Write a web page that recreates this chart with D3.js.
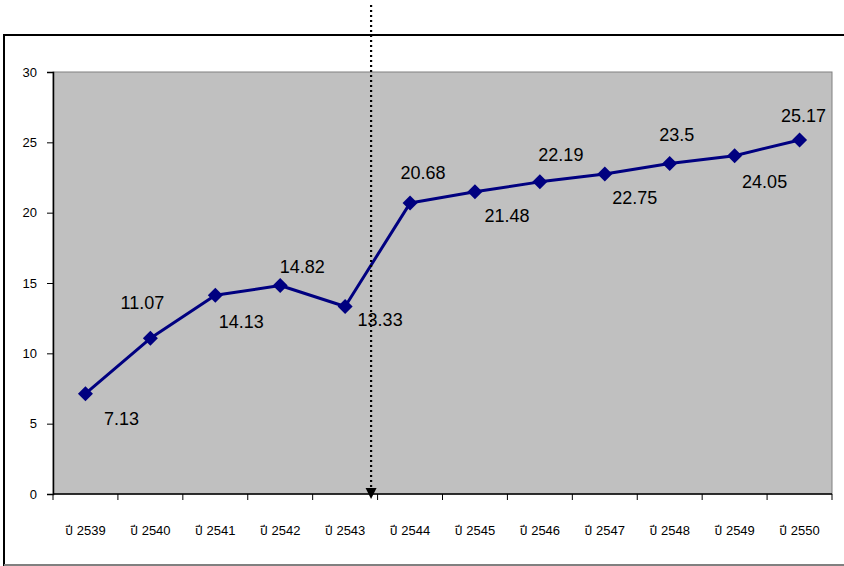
<!DOCTYPE html>
<html><head><meta charset="utf-8">
<script src="https://cdn.jsdelivr.net/npm/d3@7"></script>
<style>html,body{margin:0;padding:0;background:#fff;}svg{display:block;}</style>
</head><body>
<script>
const categories = ["ปี 2539","ปี 2540","ปี 2541","ปี 2542","ปี 2543","ปี 2544","ปี 2545","ปี 2546","ปี 2547","ปี 2548","ปี 2549","ปี 2550"];
const values = [7.13, 11.07, 14.13, 14.82, 13.33, 20.68, 21.48, 22.19, 22.75, 23.5, 24.05, 25.17];
const yTicks = [0, 5, 10, 15, 20, 25, 30];
const valueLabels = ["7.13","11.07","14.13","14.82","13.33","20.68","21.48","22.19","22.75","23.5","24.05","25.17"];
// label placement offsets (px) relative to each point
const labelDx = [36, -8, 26, 22, 35, 13, 32, 21, 30, 7, 30, 4];
const labelDy = [25, -35, 27, -19, 14, -30, 24, -27, 24, -28, 26, -24];
const arrowCategory = "ปี 2543";

const W = 844, H = 566;
const svg = d3.select("body").append("svg").attr("width", W).attr("height", H);

// outer chart border
svg.append("line").attr("x1",4).attr("x2",W).attr("y1",35).attr("y2",35).attr("stroke","#000").attr("stroke-width",2);
svg.append("line").attr("x1",4).attr("x2",4).attr("y1",34).attr("y2",566).attr("stroke","#000").attr("stroke-width",2);
svg.append("line").attr("x1",4).attr("x2",W).attr("y1",565).attr("y2",565).attr("stroke","#808080").attr("stroke-width",2);

const L = 53, R = 832, T = 72, B = 494;
const x = d3.scaleBand().domain(categories).range([L, R]).padding(0);
const y = d3.scaleLinear().domain([0, 30]).range([B, T]);

// plot area
svg.append("rect").attr("x",L).attr("y",T).attr("width",R-L).attr("height",B-T)
  .attr("fill","#c0c0c0").attr("stroke","#808080").attr("stroke-width",1);

const font = "'Liberation Sans', Arial, 'Noto Sans Thai', 'DejaVu Sans', sans-serif";

// y axis
const yAxis = d3.axisLeft(y).tickValues(yTicks).tickSize(6).tickPadding(10);
const gy = svg.append("g").attr("transform",`translate(${L},0)`).call(yAxis);
gy.select(".domain").attr("stroke","#000").attr("stroke-width",1.5);
gy.selectAll(".tick line").attr("stroke","#000");
gy.selectAll("text").attr("font-family",font).attr("font-size",13).attr("fill","#000");

// x axis with ticks at band boundaries
const gx = svg.append("g").attr("transform",`translate(0,${B})`);
gx.append("line").attr("x1",L).attr("x2",R).attr("y1",0).attr("y2",0).attr("stroke","#000").attr("stroke-width",1.5);
const bounds = categories.map(c => x(c)).concat([x(categories[categories.length-1]) + x.bandwidth()]);
gx.selectAll("line.tk").data(bounds).enter().append("line").attr("class","tk")
  .attr("x1",d=>d).attr("x2",d=>d).attr("y1",0).attr("y2",6).attr("stroke","#000");
gx.selectAll("text").data(categories).enter().append("text")
  .attr("x",d=>x(d)+x.bandwidth()/2).attr("y",36)
  .attr("text-anchor","middle").attr("dominant-baseline","central")
  .attr("font-family",font).attr("font-size",13).attr("fill","#000")
  .style("font-variant-emoji","text").text(d=>d);

const cx = (d,i) => x(categories[i]) + x.bandwidth()/2;

// line
const line = d3.line().x((d,i)=>cx(d,i)).y(d=>y(d));
svg.append("path").datum(values).attr("d",line).attr("fill","none")
  .attr("stroke","#000080").attr("stroke-width",3).attr("stroke-linejoin","round");

// diamond markers
const r = 7.5;
svg.selectAll("path.mk").data(values).enter().append("path").attr("class","mk")
  .attr("d",(d,i)=>{const px=cx(d,i), py=y(d); return `M${px},${py-r}L${px+r},${py}L${px},${py+r}L${px-r},${py}Z`;})
  .attr("fill","#000080");

// value labels
svg.selectAll("text.vl").data(values).enter().append("text").attr("class","vl")
  .attr("x",(d,i)=>cx(d,i)+labelDx[i]).attr("y",(d,i)=>y(d)+labelDy[i])
  .attr("text-anchor","middle").attr("dominant-baseline","central")
  .attr("font-family",font).attr("font-size",18).attr("fill","#000")
  .text((d,i)=>valueLabels[i]);

// dotted arrow
const ax = x(arrowCategory) + x.bandwidth()*0.9;
svg.append("line").attr("x1",ax).attr("x2",ax).attr("y1",5).attr("y2",489)
  .attr("stroke","#000").attr("stroke-width",2.2).attr("stroke-dasharray","2,3");
svg.append("path").attr("d",`M${ax-5.5},${488} L${ax+5.5},${488} L${ax},${499} Z`).attr("fill","#000");
</script>
</body></html>
